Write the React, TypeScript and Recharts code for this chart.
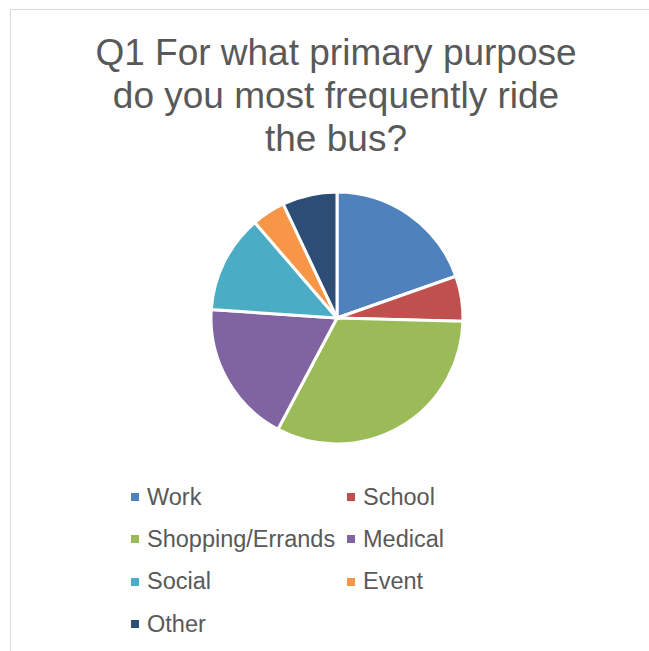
import { PieChart, Pie, Cell } from "recharts";

const categories = ["Work", "School", "Shopping/Errands", "Medical", "Social", "Event", "Other"];
const shares = [19.6, 5.8, 32.3, 18.3, 12.6, 4.3, 7.0];
const colors = ["#4F81BD", "#C0504D", "#9BBB59", "#8064A2", "#4BACC6", "#F79646", "#2C4D75"];
const titleLines = ["Q1 For what primary purpose", "do you most frequently ride", "the bus?"];

const data = categories.map((name, i) => ({ name, value: shares[i] }));

const FONT = "'Liberation Sans', Arial, sans-serif";
const TEXT = "#595959";

function ChartLegend() {
  return (
    <div
      style={{
        position: "absolute",
        left: 131,
        top: 476,
        display: "grid",
        gridTemplateColumns: "216px 216px",
        fontFamily: FONT,
      }}
    >
      {categories.map((name, i) => (
        <div
          key={name}
          style={{ display: "flex", alignItems: "center", height: 42.3, fontSize: 23.5, color: TEXT, whiteSpace: "nowrap" }}
        >
          <span style={{ width: 8, height: 8, background: colors[i], marginRight: 8, flex: "none" }} />
          <span>{name}</span>
        </div>
      ))}
    </div>
  );
}

export default function App() {
  return (
    <div style={{ position: "absolute", left: 0, top: 0, width: 649, height: 651, overflow: "hidden", background: "#fff" }}>
      <div
        style={{
          position: "absolute",
          left: 10,
          top: 9,
          width: 800,
          height: 800,
          borderLeft: "1px solid #d9d9d9",
          borderTop: "1px solid #d9d9d9",
        }}
      />
      <div
        style={{
          position: "absolute",
          left: 0,
          top: 31,
          width: 672,
          textAlign: "center",
          fontFamily: FONT,
          fontSize: 37,
          lineHeight: "43px",
          color: TEXT,
        }}
      >
        {titleLines.map((l, i) => (
          <div key={i}>{l}</div>
        ))}
      </div>
      <PieChart width={649} height={651} margin={{ top: 0, right: 0, bottom: 0, left: 0 }} style={{ position: "absolute", left: 0, top: 0 }}>
        <Pie
          data={data}
          dataKey="value"
          nameKey="name"
          cx={337}
          cy={318}
          outerRadius={126}
          startAngle={90}
          endAngle={-270}
          stroke="#fff"
          strokeWidth={3}
          isAnimationActive={false}
        >
          {data.map((d, i) => (
            <Cell key={d.name} fill={colors[i]} />
          ))}
        </Pie>
      </PieChart>
      <ChartLegend />
    </div>
  );
}
